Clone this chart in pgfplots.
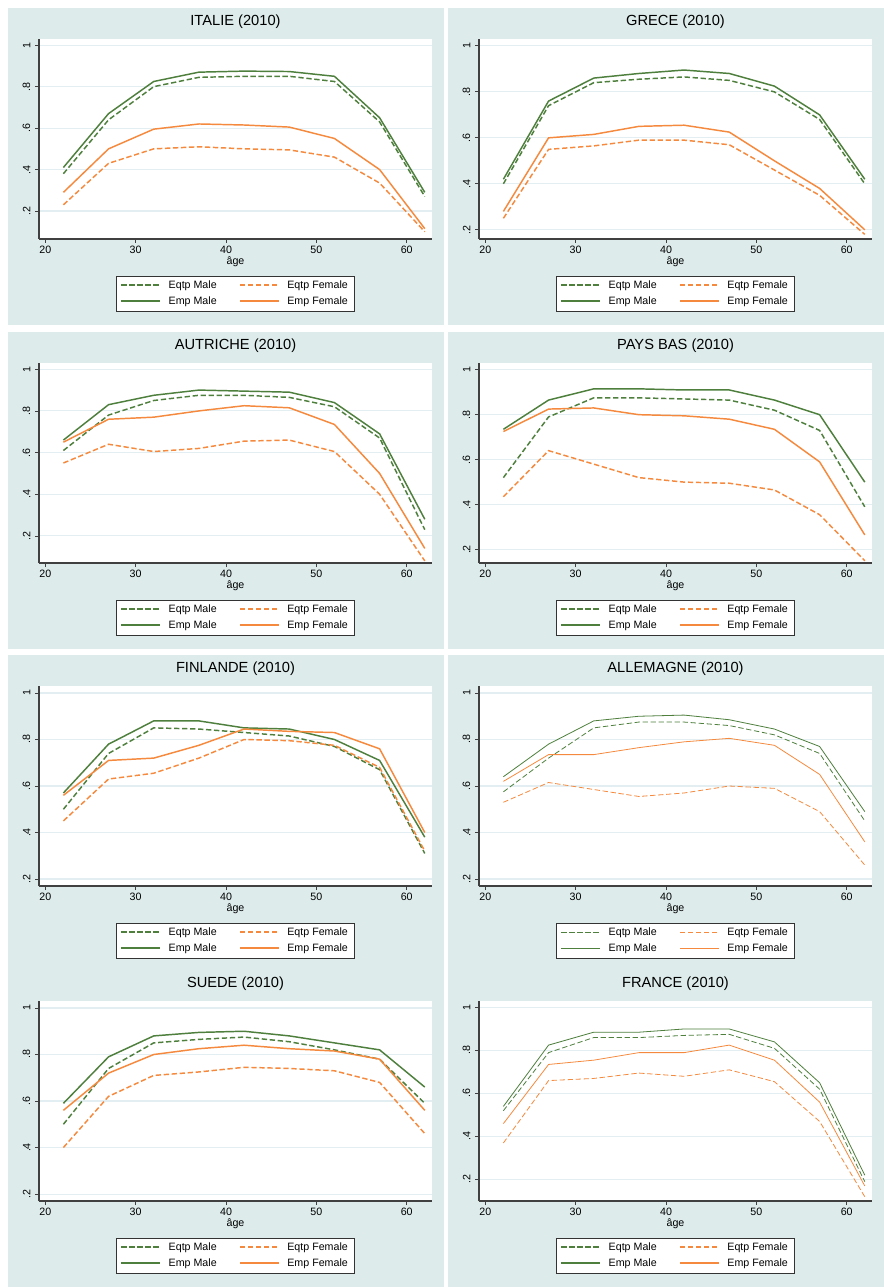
\documentclass[border=0pt]{standalone}
\usepackage{pgfplots}
\usepackage{pgfplotstable}
\pgfplotsset{compat=1.18}
\usepackage{fontspec}
\setmainfont{Liberation Sans}
\definecolor{gr}{HTML}{4E7F3C}
\definecolor{og}{HTML}{F58A3E}
\definecolor{bg}{HTML}{DDEBEB}
\definecolor{gl}{HTML}{E3EEF2}
\pgfplotstableread{
age em ef pm pf
22 .38 .23 .41 .29
27 .64 .43 .67 .50
32 .80 .50 .825 .595
37 .845 .51 .87 .62
42 .85 .50 .875 .615
47 .85 .495 .873 .605
52 .825 .46 .85 .55
57 .63 .335 .65 .40
62 .27 .10 .29 .115
}\ita
\pgfplotstableread{
age em ef pm pf
22 .40 .25 .42 .28
27 .74 .55 .76 .60
32 .84 .565 .86 .615
37 .855 .59 .88 .65
42 .865 .59 .895 .655
47 .85 .57 .88 .625
52 .80 .46 .825 .50
57 .68 .35 .70 .38
62 .40 .18 .42 .20
}\gre
\pgfplotstableread{
age em ef pm pf
22 .61 .55 .66 .65
27 .78 .64 .83 .76
32 .85 .605 .875 .77
37 .875 .62 .90 .80
42 .875 .655 .895 .825
47 .865 .66 .89 .815
52 .82 .605 .84 .735
57 .67 .40 .69 .50
62 .23 .08 .28 .14
}\aut
\pgfplotstableread{
age em ef pm pf
22 .52 .435 .735 .725
27 .79 .64 .865 .825
32 .875 .58 .915 .83
37 .875 .52 .915 .80
42 .87 .50 .91 .795
47 .865 .495 .91 .78
52 .82 .465 .865 .735
57 .73 .355 .80 .59
62 .39 .15 .50 .265
}\nld
\pgfplotstableread{
age em ef pm pf
22 .50 .45 .57 .56
27 .74 .63 .78 .71
32 .85 .655 .88 .72
37 .845 .72 .88 .775
42 .83 .80 .85 .845
47 .815 .795 .845 .835
52 .77 .775 .80 .83
57 .67 .68 .71 .76
62 .31 .32 .38 .40
}\fin
\pgfplotstableread{
age em ef pm pf
22 .575 .53 .64 .62
27 .72 .615 .78 .735
32 .85 .585 .88 .735
37 .875 .555 .90 .765
42 .875 .57 .905 .79
47 .86 .60 .885 .805
52 .82 .59 .845 .775
57 .74 .49 .77 .65
62 .45 .26 .49 .36
}\deu
\pgfplotstableread{
age em ef pm pf
22 .50 .40 .59 .56
27 .74 .62 .79 .72
32 .85 .71 .88 .80
37 .865 .725 .895 .825
42 .875 .745 .90 .84
47 .855 .74 .88 .825
52 .82 .73 .85 .815
57 .78 .68 .82 .78
62 .59 .46 .66 .56
}\swe
\pgfplotstableread{
age em ef pm pf
22 .52 .37 .54 .46
27 .79 .66 .825 .735
32 .86 .67 .885 .755
37 .86 .695 .885 .79
42 .87 .68 .90 .79
47 .875 .71 .90 .825
52 .81 .655 .84 .755
57 .62 .47 .65 .56
62 .19 .12 .22 .17
}\fra
\tikzset{dsh/.style={dash pattern=on 4pt off 2pt}}
\newcommand\legline[5]{\draw[draw=#1,#2,line width=#3] (#4,#5) -- ++(29pt,0);}
% #1 x0 px, #2 y0 px, #3 title, #4 table, #5 ymin, #6 line width, #7 legend line width
\newcommand\panel[7]{%
\fill[bg] ({#1*0.75pt},{-#2*0.75pt}) rectangle ({(#1+436)*0.75pt},{-(#2+317)*0.75pt});
\begin{scope}[shift={({(#1+108)*0.75pt},{-(#2+268)*0.75pt})},font=\fontsize{8}{9}\selectfont]
\draw[black!80,line width=0.6pt,fill=white] (0,0) rectangle (178.5pt,-26.25pt);
\legline{gr}{dsh}{#7}{4pt}{-7pt}
\legline{og}{dsh}{#7}{93pt}{-7pt}
\legline{gr}{solid}{#7}{4pt}{-19pt}
\legline{og}{solid}{#7}{93pt}{-19pt}
\node[anchor=west,text=black] at (36pt,-7pt) {Eqtp Male};
\node[anchor=west,text=black] at (125pt,-7pt) {Eqtp Female};
\node[anchor=west,text=black] at (36pt,-19pt) {Emp Male};
\node[anchor=west,text=black] at (125pt,-19pt) {Emp Female};
\end{scope}
\begin{axis}[at={({(#1+31)*0.75pt},{-(#2+231)*0.75pt})},anchor=south west,
 scale only axis,width=294.75pt,height=150pt,
 axis background/.style={fill=white},
 xmin=19.3,xmax=62.8,ymin=#5,ymax=1.03,
 xtick={20,30,...,60},ytick={.2,.4,.6,.8,1},
 yticklabels={.2,.4,.6,.8,1},
 axis x line*=bottom,axis y line*=left,
 axis line style={black!75,line width=0.8pt},
 tick style={black!75,line width=0.6pt},tick align=outside,
 major tick length=3pt,
 ymajorgrids,grid style={gl,line width=0.8pt},
 /pgf/number format/assume math mode=true,
 tick label style={font=\fontsize{8}{9}\selectfont},
 yticklabel style={rotate=90,anchor=south},
 xticklabel style={yshift=1pt},
 xlabel={âge},xlabel style={font=\fontsize{8}{9}\selectfont,yshift=5pt},
 title={#3},title style={font=\fontsize{11}{12}\selectfont,yshift=-2pt},
 every axis plot/.append style={line width=#6}]
\addplot[draw=gr,dsh] table[x=age,y=em]{#4};
\addplot[draw=og,dsh] table[x=age,y=ef]{#4};
\addplot[draw=gr] table[x=age,y=pm]{#4};
\addplot[draw=og] table[x=age,y=pf]{#4};
\end{axis}}
\begin{document}
\begin{tikzpicture}
\fill[white] (0,0) rectangle (663pt,-965.25pt);
\panel{8}{8}{ITALIE (2010)}{\ita}{0.065}{1.1pt}{1.4pt}
\panel{448}{8}{GRECE (2010)}{\gre}{0.16}{1.1pt}{1.4pt}
\panel{8}{332}{AUTRICHE (2010)}{\aut}{0.07}{1.1pt}{1.4pt}
\panel{448}{332}{PAYS BAS (2010)}{\nld}{0.14}{1.1pt}{1.4pt}
\panel{8}{655}{FINLANDE (2010)}{\fin}{0.17}{1.1pt}{1.4pt}
\panel{448}{655}{ALLEMAGNE (2010)}{\deu}{0.17}{0.6pt}{1pt}
\panel{8}{970}{SUEDE (2010)}{\swe}{0.17}{1.1pt}{1.4pt}
\panel{448}{970}{FRANCE (2010)}{\fra}{0.10}{0.6pt}{1.4pt}
\end{tikzpicture}
\end{document}
